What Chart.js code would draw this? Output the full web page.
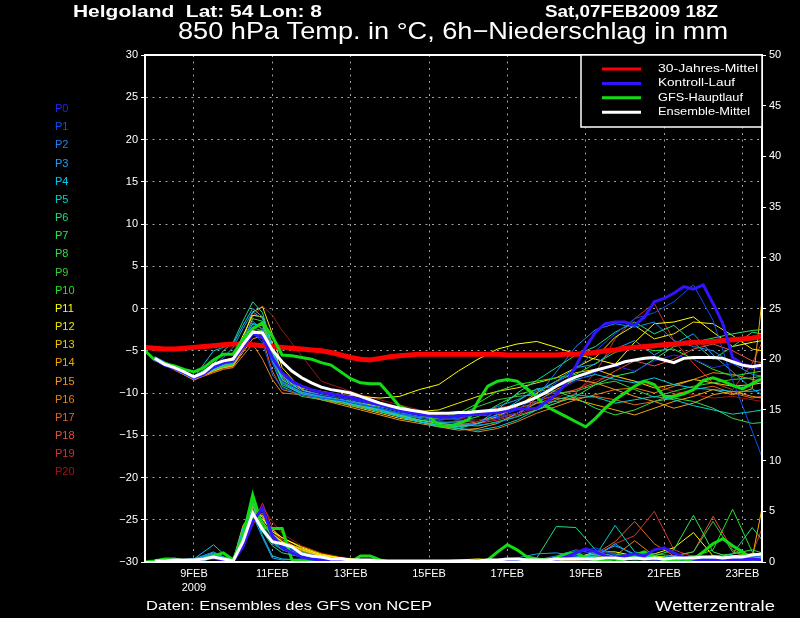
<!DOCTYPE html>
<html>
<head>
<meta charset="utf-8">
<script src="https://cdn.jsdelivr.net/npm/chart.js"></script>
<style>
html, body { margin: 0; padding: 0; background: #000; }
#wrap { width: 800px; height: 618px; }
</style>
</head>
<body>
<div id="wrap"><canvas id="grafico" width="800" height="618"></canvas></div>
<script>
const FONT = '"Liberation Sans", Arial, sans-serif';

// time axis: hours after 07FEB2009 18Z, 6h steps
const hours = [0,6,12,18,24,30,36,42,48,54,60,66,72,78,84,90,96,102,108,114,120,126,132,138,144,150,156,162,168,174,180,186,
  192,198,204,210,216,222,228,234,240,246,252,258,264,270,276,282,288,294,300,306,312,318,324,330,336,342,348,354,360,366,372,378];
const tickHours = [30, 78, 126, 174, 222, 270, 318, 366];
const tickLabels = [['9FEB', '2009'], '11FEB', '13FEB', '15FEB', '17FEB', '19FEB', '21FEB', '23FEB'];

// 850 hPa temperature (°C)
const climTemp = [-4.6,-4.7,-4.8,-4.8,-4.7,-4.6,-4.5,-4.4, -4.3,-4.2,-4.2,-4.3,-4.4,-4.5,-4.6,-4.7,
  -4.8,-4.9,-5.0,-5.2,-5.5,-5.8,-6.0,-6.1, -5.9,-5.7,-5.6,-5.5,-5.4,-5.4,-5.4,-5.4,
  -5.4,-5.4,-5.4,-5.4,-5.4,-5.5,-5.5,-5.5, -5.5,-5.5,-5.5,-5.4,-5.4,-5.3,-5.2,-5.0,
  -4.9,-4.7,-4.6,-4.5,-4.4,-4.3,-4.2,-4.1, -4.0,-4.0,-3.9,-3.8,-3.7,-3.6,-3.5,-3.3];
const gfsTemp = [-5.0,-6.1,-6.5,-6.8,-7.2,-7.5,-7.0,-6.1, -5.4,-5.4,-3.6,-2.4,-1.7,-3.3,-5.5,-5.6,
  -5.8,-6.0,-6.4,-6.7,-7.5,-8.3,-8.8,-8.9, -8.9,-10.2,-11.6,-12.0,-12.4,-12.8,-13.8,-14.0,
  -13.6,-13.2,-11.0,-9.2,-8.6,-8.4,-8.6,-9.5, -10.5,-11.6,-12.2,-12.8,-13.4,-14.0,-13.0,-11.8,
  -10.8,-10.0,-9.2,-8.6,-9.0,-10.4,-10.4,-10.1, -9.6,-8.5,-8.2,-8.6,-9.1,-9.5,-8.9,-8.3];
const meanTemp = [null,-5.9,-6.6,-7.0,-7.5,-8.1,-7.6,-6.6, -6.2,-6.0,-4.3,-2.8,-2.9,-4.9,-6.3,-7.4,
  -8.2,-8.8,-9.3,-9.6,-9.8,-10.0,-10.4,-10.8, -11.2,-11.5,-11.8,-12.0,-12.2,-12.4,-12.4,-12.4,
  -12.3,-12.3,-12.2,-12.1,-12.0,-11.8,-11.4,-11.0, -10.5,-9.9,-9.2,-8.6,-8.1,-7.7,-7.3,-7.0,
  -6.7,-6.3,-6.1,-5.9,-5.8,-6.1,-6.4,-5.9, -5.8,-5.8,-5.8,-5.9,-6.3,-6.7,-6.9,-6.7];
const ctrlTemp = [null,-6.0,-6.7,-7.1,-7.6,-8.2,-7.8,-6.9, -6.4,-6.2,-4.6,-3.0,-3.4,-5.8,-7.6,-8.6,
  -9.2,-9.6,-9.9,-10.1,-10.3,-10.5,-10.8,-11.1, -11.4,-11.7,-12.0,-12.3,-12.5,-12.7,-12.8,-12.8,
  -12.7,-12.6,-12.5,-12.4,-12.3,-12.1,-11.9,-11.9, -11.8,-11.0,-10.2,-8.8,-6.8,-4.6,-2.8,-1.8,
  -1.6,-1.6,-2.0,-1.0,0.8,1.2,1.8,2.6, 2.3,2.8,0.6,-1.8,-5.8,-6.6,-6.9,-6.6];

// 6h precipitation (mm)
const meanPrec = [null,0.1,0.1,0.2,0.2,0.2,0.3,0.5, 0.3,0.1,2.0,4.8,3.2,2.0,1.8,1.5,
  0.8,0.6,0.5,0.3,0.3,0.2,0.2,0.2, 0.1,0.1,0.1,0.1,0.1,0.1,0.1,0.1,
  0.1,0.1,0.1,0.2,0.2,0.3,0.3,0.2, 0.2,0.2,0.3,0.3,0.3,0.3,0.3,0.4,
  0.4,0.3,0.4,0.3,0.4,0.3,0.4,0.4, 0.4,0.5,0.5,0.4,0.5,0.5,0.7,0.8];
const gfsPrec = [0,0.1,0.3,0.3,0.1,0,0.2,0.6, 0.9,0.2,2.5,6.6,3.4,3.3,3.3,0.2,
  0.1,0,0,0,0,0,0.6,0.6, 0.2,0,0,0,0,0,0,0,
  0,0,0,0.2,1.0,1.7,1.2,0.5, 0.3,0.2,0.4,0.8,0.9,0.4,0.2,0.1,
  0,0.3,0.7,1.0,0.5,0.2,0.1,0, 0.3,1.0,1.8,2.3,1.6,1.0,0.3,0];
const ctrlPrec = [null,0,0.1,0.2,0.1,0.1,0.3,0.4, 0.2,0.1,1.5,4.0,5.3,2.6,1.4,0.9,
  0.5,0.3,0.2,0.1,0.1,0.1,0.1,0, 0,0,0,0,0,0,0,0,
  0,0,0,0,0,0,0,0.1, 0.1,0.1,0.2,0.5,0.9,1.3,1.0,0.6,
  0.4,0.6,0.8,0.6,1.2,1.4,0.9,0.5, 0.3,0.2,0.2,0.3,0.2,0.2,0.3,0.2];

// ensemble members P0..P20 on a coarser time grid
const memberHours = [6,18,30,42,48,54,60,66,72,78,84,96,108,120,132,144,156,168,180,192,204,216,228,240,
  252,264,276,288,300,312,324,336,348,360,372,378];
const memberNames = ['P0','P1','P2','P3','P4','P5','P6','P7','P8','P9','P10','P11','P12','P13','P14','P15','P16','P17','P18','P19','P20'];
const memberColors = ['#2424e6','#0a50f5','#1e82f0','#1ea0f0','#00c8f0','#00d2c8','#1edc82','#28e65a','#32dc46','#3cc83c',
  '#1ee61e','#ffff00','#f0e600','#f0c800','#f0aa00','#f0961e','#e68214','#e6641e','#e6503c','#d2322d','#a01414'];
const memberTemps = [
  [-5.8,-7.1,-8.3,-6.9,-6.4,-6.2,-3.8,-2.0,-3.2,-6.5,-8.6,-9.8, -10.3,-10.6,-11.0,-11.5,-12.2,-12.6,-13.0,-13.2,-13.4,-13.0,-12.4,-11.0, -9.8,-8.6,-7.5,-6.8,-7.4,-6.2,-5.5,-6.0,-7.0,-6.5,-7.2,-7.0],
  [-5.9,-7.0,-8.1,-7.1,-6.6,-6.4,-4.5,-2.8,-4.0,-7.8,-9.4,-10.2, -10.6,-10.9,-11.4,-11.8,-12.4,-12.8,-13.2,-13.0,-12.6,-12.8,-12.0,-10.4, -8.8,-7.2,-5.0,-3.0,-1.2,-0.5,0.8,2.8,-1.4,-8.5,-14.5,-17.6],
  [-6.0,-7.2,-8.4,-7.0,-6.5,-6.0,-3.5,-1.5,-2.5,-6.0,-8.8,-10.0, -10.5,-10.8,-11.2,-11.9,-12.5,-13.0,-13.4,-13.6,-13.8,-13.5,-12.8,-10.5, -7.5,-4.5,-2.5,-1.8,-2.2,-1.6,-3.8,-4.5,-5.0,-6.5,-7.8,-8.0],
  [-5.7,-6.9,-8.0,-6.8,-5.8,-4.6,-2.4,-0.4,-1.2,-4.5,-8.0,-9.6, -10.2,-10.6,-11.0,-11.6,-12.2,-12.8,-13.2,-13.0,-12.4,-11.6,-10.8,-9.8, -8.6,-7.0,-6.6,-4.8,-3.8,-5.5,-4.2,-3.0,-5.5,-7.5,-9.5,-10.2],
  [-5.8,-7.0,-8.2,-5.0,-4.6,-4.2,-2.0,0.0,-1.0,-4.8,-8.2,-9.8, -10.4,-10.9,-11.4,-12.0,-12.8,-13.4,-13.8,-14.0,-13.6,-12.5,-11.0,-9.5, -9.2,-8.4,-7.8,-8.4,-8.8,-8.2,-9.0,-9.4,-9.6,-9.8,-9.8,-9.6],
  [-5.9,-7.1,-8.3,-7.2,-6.8,-6.5,-4.2,-1.8,-2.4,-6.2,-9.0,-10.1, -10.6,-11.0,-11.6,-12.2,-12.8,-13.4,-13.8,-14.2,-14.4,-14.0,-13.2,-12.0, -10.8,-10.2,-10.5,-11.2,-10.8,-10.4,-10.8,-11.5,-12.0,-12.5,-12.2,-12.0],
  [-5.8,-7.0,-8.0,-6.6,-5.0,-4.0,-1.5,0.8,-0.5,-4.5,-8.6,-10.0, -10.6,-11.0,-11.4,-11.8,-12.4,-13.4,-14.0,-14.2,-13.6,-12.0,-10.0,-8.5, -7.0,-5.5,-4.5,-2.8,-1.6,-3.0,-2.0,-4.0,-6.0,-4.5,-2.8,-3.0],
  [-5.9,-7.1,-8.2,-7.0,-6.4,-6.2,-3.8,-1.8,-2.0,-5.2,-8.4,-9.9, -10.4,-10.8,-11.2,-11.8,-12.6,-13.2,-13.6,-13.8,-13.9,-13.4,-12.8,-12.0, -11.2,-10.4,-9.0,-8.0,-7.5,-6.0,-4.5,-4.0,-3.5,-3.0,-2.6,-2.5],
  [-6.0,-7.2,-8.3,-7.3,-6.9,-6.6,-4.0,-1.2,-1.5,-5.5,-8.6,-10.0, -10.5,-10.9,-11.4,-12.0,-12.7,-13.2,-13.5,-13.4,-12.8,-11.4,-10.2,-9.6, -9.8,-10.6,-11.8,-12.6,-12.0,-11.0,-10.6,-11.0,-11.8,-13.0,-13.6,-13.5],
  [-5.8,-7.0,-8.1,-7.0,-6.6,-6.3,-4.4,-2.6,-3.0,-6.4,-9.2,-10.4, -10.8,-11.2,-11.7,-12.2,-12.6,-12.9,-13.0,-12.6,-11.6,-10.8,-10.4,-10.2, -10.0,-9.8,-9.0,-8.6,-9.6,-10.5,-9.8,-9.2,-8.8,-8.4,-8.2,-8.0],
  [-5.9,-7.1,-8.2,-7.1,-6.5,-6.1,-4.0,-2.2,-2.8,-6.0,-8.8,-10.1, -10.6,-11.0,-11.4,-11.9,-12.4,-12.8,-13.0,-12.4,-11.2,-9.8,-9.0,-8.6, -8.2,-7.8,-6.5,-5.2,-4.5,-5.0,-4.8,-6.0,-7.2,-8.0,-7.6,-7.4],
  [-5.8,-7.0,-8.0,-6.8,-6.2,-5.8,-3.2,-0.8,-1.0,-4.2,-7.8,-9.4, -9.8,-10.2,-10.4,-10.6,-10.4,-9.6,-9.0,-7.4,-6.0,-4.8,-4.2,-3.9, -4.6,-5.4,-6.0,-6.6,-4.0,-1.8,-1.6,-1.0,-2.8,-4.5,-4.0,-3.8],
  [-5.9,-7.2,-8.3,-7.2,-6.7,-6.4,-3.6,-0.4,0.2,-3.0,-7.0,-9.6, -10.4,-10.8,-11.2,-11.6,-12.0,-12.2,-12.0,-11.2,-10.4,-9.8,-9.4,-8.8, -8.2,-7.0,-5.8,-3.4,-2.0,-3.6,-3.0,-1.6,-1.8,-3.2,-4.8,-5.0],
  [-6.0,-7.2,-8.4,-7.4,-7.0,-6.8,-4.8,-2.8,-2.6,-5.0,-8.0,-9.8, -10.6,-11.2,-11.8,-12.4,-13.0,-13.4,-13.8,-14.0,-13.6,-12.8,-11.6,-10.0, -8.6,-7.6,-7.2,-8.0,-8.6,-9.4,-9.0,-8.4,-8.8,-9.2,-9.0,-8.8],
  [-5.8,-7.1,-8.2,-7.3,-6.9,-6.6,-4.4,-2.4,-1.8,-4.4,-7.6,-9.6, -10.4,-11.0,-11.5,-12.0,-12.4,-12.8,-13.0,-13.2,-13.4,-13.0,-12.4,-11.2, -10.6,-10.8,-11.4,-12.0,-12.6,-11.8,-11.0,-10.4,-9.6,-10.2,-9.5,1.0],
  [-5.9,-7.1,-8.3,-7.4,-7.0,-6.8,-5.2,-3.6,-3.2,-5.6,-8.4,-10.0, -10.8,-11.4,-12.0,-12.6,-13.2,-13.6,-14.0,-14.4,-14.2,-13.6,-12.4,-11.0, -9.6,-8.4,-8.8,-9.6,-10.4,-11.0,-11.8,-11.2,-10.2,-9.8,-10.4,-10.6],
  [-6.0,-7.3,-8.4,-7.6,-7.2,-7.0,-5.6,-4.2,-6.0,-8.4,-10.0,-10.2, -10.6,-11.0,-11.6,-12.2,-12.8,-13.4,-13.8,-14.2,-14.6,-14.2,-13.4,-12.4, -11.6,-10.8,-10.2,-9.6,-9.4,-10.0,-9.2,-8.4,-7.6,-7.8,-8.4,-8.6],
  [-5.9,-7.2,-8.5,-7.4,-6.9,-6.7,-5.0,-3.0,-3.6,-7.4,-9.6,-10.2, -10.6,-11.0,-11.6,-12.2,-12.8,-13.2,-13.6,-13.8,-13.4,-12.6,-11.8,-11.2, -11.0,-10.6,-10.4,-10.8,-11.4,-11.0,-10.2,-9.6,-9.2,-10.0,-10.6,-10.4],
  [-5.8,-7.0,-8.2,-7.2,-6.8,-6.4,-4.2,-2.2,-2.0,-4.8,-7.8,-9.4, -10.0,-10.4,-10.8,-11.4,-12.0,-12.6,-13.0,-12.8,-12.2,-11.8,-11.4,-11.0, -10.2,-9.6,-8.8,-7.4,-6.2,-6.8,-6.0,-4.8,-4.2,-5.0,-6.2,-6.4],
  [-6.0,-7.2,-8.4,-7.5,-7.1,-6.9,-4.8,-2.6,-2.4,-5.4,-8.6,-10.2, -10.8,-11.2,-11.6,-12.0,-12.6,-13.2,-13.6,-13.8,-13.6,-13.2,-12.6,-12.0, -11.2,-10.0,-7.6,-3.6,-1.2,0.6,-3.8,-6.5,-8.8,-9.6,-6.5,-4.0],
  [-6.0,-7.2,-8.2,-7.3,-6.9,-6.6,-4.2,-1.0,0.3,-0.8,-2.6,-5.6, -8.6,-9.4,-10.2,-10.8,-11.4,-12.0,-12.6,-13.0,-13.2,-12.8,-12.4,-11.8, -10.6,-9.6,-8.4,-8.0,-8.6,-9.2,-9.8,-10.2,-10.6,-10.4,-10.8,-11.0]
];
const memberPrecs = [
  [0,0.1,0.2,0.5,0.3,0.1,2.0,4.2,3.6,2.2,1.5,0.8, 0.4,0.2,0.1,0.1,0,0,0,0,0,0.1,0.2,0.1, 0.3,0.6,1.2,0.6,0.3,0.2,0.1,0.3,0.2,0.4,0.3,0.2],
  [0,0.1,0.1,0.6,0.4,0.1,1.6,3.8,5.3,2.8,1.6,0.9, 0.5,0.3,0.1,0,0,0,0,0,0,0,0.1,0.2, 0.4,0.8,1.4,0.7,0.5,0.3,0.6,0.2,0.1,0.2,0.5,0.6],
  [0.1,0.2,0.3,0.8,0.4,0.2,2.8,5.0,3.2,1.8,1.2,0.7, 0.4,0.2,0.1,0,0,0,0,0,0,0,0,0.2, 0.6,1.2,0.8,0.4,0.3,0.2,0.3,0.4,0.2,0.3,0.2,0.4],
  [0,0.1,0.3,1.0,0.5,0.1,3.0,4.6,2.4,0.4,0.2,0.3, 0.2,0.1,0,0,0,0,0,0,0.1,0.2,0.4,0.8, 0.9,0.6,0.4,1.8,0.6,0.3,0.2,0.1,0.3,0.2,0.4,0.3],
  [0.1,0.2,0.3,1.7,0.8,0.2,3.2,5.2,2.6,0.6,0.3,0.2, 0.1,0,0,0,0,0,0,0,0,0,0.1,0.2, 0.3,0.5,0.8,1.6,0.8,0.4,0.2,0.3,0.2,0.1,0.2,0.2],
  [0,0.1,0.2,0.6,0.3,0.1,2.2,4.4,3.0,2.0,1.4,0.8, 0.5,0.3,0.1,0,0,0,0,0,0,0,0.1,0.1, 0.2,0.4,0.6,3.6,1.0,0.4,0.2,0.3,0.2,0.2,0.3,0.2],
  [0.1,0.1,0.2,0.9,0.5,0.2,3.4,5.6,3.0,1.6,0.9,0.5, 0.3,0.2,0.1,0,0,0,0,0,0.1,0.2,0.3,0.4, 3.5,3.4,1.2,0.3,0.2,0.3,0.6,0.4,0.3,0.8,3.4,2.2],
  [0,0.1,0.2,0.7,0.4,0.1,2.6,5.8,4.0,2.4,1.6,0.9, 0.4,0.2,0.1,0,0,0,0,0,0,0.1,0.2,0.2, 0.3,0.5,0.6,0.8,0.5,0.6,1.2,4.6,1.0,0.4,0.3,0.5],
  [0,0.1,0.2,0.5,0.3,0.1,1.8,4.8,3.4,2.0,1.2,0.6, 0.3,0.2,0.1,0,0,0,0,0,0,0,0.1,0.1, 0.2,0.3,0.4,0.6,0.4,0.3,0.5,0.4,0.6,0.8,1.2,0.9],
  [0,0.1,0.3,0.6,0.4,0.1,2.4,5.2,3.8,2.6,1.8,1.0, 0.5,0.3,0.1,0.1,0,0,0,0,0,0,0.1,0.1, 0.2,0.3,0.4,0.3,0.5,0.8,0.6,1.0,4.0,1.0,0.5,0.4],
  [0,0.1,0.2,0.8,0.5,0.2,2.9,6.0,3.6,2.2,1.4,0.8, 0.4,0.2,0.1,0,0,0,0,0,0,0,0.1,0.2, 0.2,0.3,0.5,0.4,0.3,0.4,0.6,0.5,1.2,5.2,1.0,0.5],
  [0,0.1,0.2,0.5,0.3,0.1,2.4,4.6,4.2,3.0,2.4,1.4, 0.7,0.4,0.2,0.1,0,0,0.1,0.2,0.3,0.2,0.1,0.1, 0.2,0.4,1.0,1.0,0.6,0.8,1.4,2.9,0.6,0.3,0.4,0.5],
  [0.1,0.1,0.2,0.6,0.4,0.2,3.0,5.4,4.4,2.8,2.0,1.2, 0.6,0.3,0.2,0.1,0,0,0,0,0,0.1,0.2,0.2, 0.3,0.5,0.8,0.6,0.5,0.6,0.4,0.5,0.3,0.6,0.8,0.7],
  [0,0.1,0.2,0.4,0.3,0.1,2.6,4.8,4.6,3.2,2.4,1.5, 0.8,0.4,0.2,0.1,0.1,0,0,0,0,0,0.1,0.1, 0.2,0.3,0.4,0.5,0.4,0.3,0.4,0.6,0.5,0.4,0.5,0.6],
  [0,0.1,0.2,0.5,0.4,0.2,3.6,5.0,4.0,2.6,2.0,1.3, 0.7,0.4,0.2,0.1,0,0,0,0,0,0,0.1,0.1, 0.2,0.2,0.3,0.4,0.3,0.2,0.3,0.4,0.3,0.2,0.4,5.3],
  [0,0.1,0.2,0.4,0.3,0.1,2.8,5.0,4.4,2.8,2.0,1.3, 0.7,0.4,0.2,0.1,0,0,0,0,0,0,0.1,0.1, 0.2,0.3,0.3,0.5,0.8,0.5,0.4,0.3,0.5,0.6,0.4,0.3],
  [0,0.1,0.3,0.6,0.4,0.2,3.2,5.6,3.4,2.2,1.8,1.1, 0.6,0.3,0.2,0.1,0,0,0,0,0,0,0.1,0.2, 0.3,0.4,0.5,0.6,2.1,0.6,0.4,0.3,0.6,0.5,0.3,0.4],
  [0,0.1,0.2,0.5,0.3,0.1,2.2,4.4,4.8,3.0,2.2,1.2, 0.6,0.3,0.2,0.1,0,0,0,0,0,0,0.1,0.1, 0.2,0.4,0.8,2.0,4.0,1.8,0.6,0.3,0.4,0.5,0.3,0.4],
  [0,0.1,0.3,0.6,0.4,0.1,2.0,4.2,4.6,2.8,1.8,1.0, 0.5,0.3,0.2,0.1,0,0,0,0,0,0,0.1,0.1, 0.2,0.3,0.4,0.5,0.6,0.4,0.6,1.0,4.5,1.2,0.5,0.4],
  [0,0.1,0.2,0.4,0.3,0.1,1.8,3.8,5.8,3.4,2.0,1.1, 0.6,0.3,0.2,0.1,0,0,0,0,0,0,0.1,0.1, 0.2,0.3,0.6,1.8,2.6,5.0,1.2,0.5,0.4,0.6,0.8,3.3],
  [0,0.1,0.2,0.4,0.3,0.1,1.6,3.6,5.4,4.0,2.8,1.6, 0.9,0.5,0.2,0.1,0,0,0,0,0,0,0.1,0.1, 0.2,0.3,0.4,0.5,0.4,0.3,0.4,0.5,0.4,0.3,0.5,0.6]
];

const legendNames = ['30-Jahres-Mittel', 'Kontroll-Lauf', 'GFS-Hauptlauf', 'Ensemble-Mittel'];
const legendColors = ['#ff0000', '#3214ff', '#14dc14', '#ffffff'];

function pts(xs, ys) {
  return xs.map((x, i) => ({ x: x, y: ys[i] }));
}

function line(data, color, width, axis, order) {
  return {
    data: data, yAxisID: axis, borderColor: color, backgroundColor: color,
    borderWidth: width, pointRadius: 0, fill: false, tension: 0, order: order
  };
}

const datasets = [
  line(pts(hours, meanTemp), '#ffffff', 3, 'y', 0),
  line(pts(hours, meanPrec), '#ffffff', 3, 'y1', 0),
  line(pts(hours, ctrlTemp), legendColors[1], 3, 'y', 1),
  line(pts(hours, ctrlPrec), legendColors[1], 3, 'y1', 1),
  line(pts(hours, gfsTemp), legendColors[2], 3, 'y', 2),
  line(pts(hours, gfsPrec), legendColors[2], 3, 'y1', 2),
  line(pts(hours, climTemp), legendColors[0], 5, 'y', 3)
];
memberTemps.forEach((vals, i) => datasets.push(line(pts(memberHours, vals), memberColors[i], 1, 'y', 10)));
memberPrecs.forEach((vals, i) => datasets.push(line(pts(memberHours, vals), memberColors[i], 1, 'y1', 10)));

// draws a string stretched to a given width
function txt(ctx, s, x, y, size, w, weight) {
  ctx.font = (weight || 'normal') + ' ' + size + 'px ' + FONT;
  const m = ctx.measureText(s).width;
  ctx.save();
  ctx.translate(x, y);
  if (w) ctx.scale(w / m, 1);
  ctx.textAlign = 'left';
  ctx.textBaseline = 'middle';
  ctx.fillText(s, 0, 0);
  ctx.restore();
}

const deco = {
  id: 'deco',
  afterDraw(chart) {
    const ctx = chart.ctx;
    const a = chart.chartArea;
    ctx.save();
    ctx.strokeStyle = '#fff';
    ctx.lineWidth = 2;
    ctx.strokeRect(a.left, a.top, a.right - a.left, a.bottom - a.top);

    // legend box
    ctx.fillStyle = '#000';
    ctx.fillRect(581, a.top, a.right - 581, 72);
    ctx.lineWidth = 1.5;
    ctx.strokeRect(581, a.top, a.right - 581, 72);
    const rowW = [100, 77, 85, 92];
    legendNames.forEach((n, i) => {
      const y = 69 + i * 14.4;
      ctx.strokeStyle = legendColors[i];
      ctx.lineWidth = 3;
      ctx.beginPath();
      ctx.moveTo(602, y);
      ctx.lineTo(641, y);
      ctx.stroke();
      ctx.fillStyle = '#fff';
      txt(ctx, n, 658, y, 11, rowW[i]);
    });

    // member labels
    memberNames.forEach((n, i) => {
      ctx.fillStyle = memberColors[i];
      txt(ctx, n, 55, 109 + i * 18.17, 11);
    });

    ctx.fillStyle = '#fff';
    txt(ctx, 'Helgoland  Lat: 54 Lon: 8', 73, 13, 16, 249, 'bold');
    txt(ctx, 'Sat,07FEB2009 18Z', 545, 13, 16, 173, 'bold');
    txt(ctx, '850 hPa Temp. in \u00b0C, 6h\u2212Niederschlag in mm', 178, 32, 24, 550);
    txt(ctx, 'Daten: Ensembles des GFS von NCEP', 146, 607, 12, 286);
    txt(ctx, 'Wetterzentrale', 655, 607, 15, 120);
    ctx.restore();
  }
};

new Chart(document.getElementById('grafico'), {
  type: 'line',
  data: { datasets: datasets },
  options: {
    responsive: false,
    animation: false,
    devicePixelRatio: 1,
    layout: { padding: { top: 55, left: 0, right: 0, bottom: 0 } },
    plugins: { legend: { display: false }, tooltip: { enabled: false } },
    scales: {
      x: {
        type: 'linear', min: 0, max: 378, bounds: 'data',
        afterBuildTicks: s => { s.ticks = tickHours.map(v => ({ value: v })); },
        afterFit: s => { s.height = 56; },
        ticks: {
          color: '#fff', padding: 5, maxRotation: 0, autoSkip: false,
          font: { family: FONT, size: 11, lineHeight: 1.25 },
          callback: (v, i) => tickLabels[i]
        },
        grid: { color: '#a0a0a0', lineWidth: 1, drawTicks: false },
        border: { color: '#fff', width: 2, dash: [2, 4.5] }
      },
      y: {
        position: 'left', min: -30, max: 30,
        afterFit: s => { s.width = 145; },
        ticks: {
          stepSize: 5, color: '#fff', padding: 3,
          font: { family: FONT, size: 11 },
          callback: v => String(v).replace('-', '\u2212')
        },
        grid: { color: '#a0a0a0', lineWidth: 1, tickColor: '#fff', tickLength: 4 },
        border: { color: '#fff', width: 2, dash: [2, 4.5] }
      },
      y1: {
        position: 'right', min: 0, max: 50,
        afterFit: s => { s.width = 38; },
        ticks: { stepSize: 5, color: '#fff', padding: 3, font: { family: FONT, size: 11 } },
        grid: { drawOnChartArea: false, tickColor: '#fff', tickLength: 4 },
        border: { color: '#fff', width: 2 }
      }
    }
  },
  plugins: [deco]
});
</script>
</body>
</html>
